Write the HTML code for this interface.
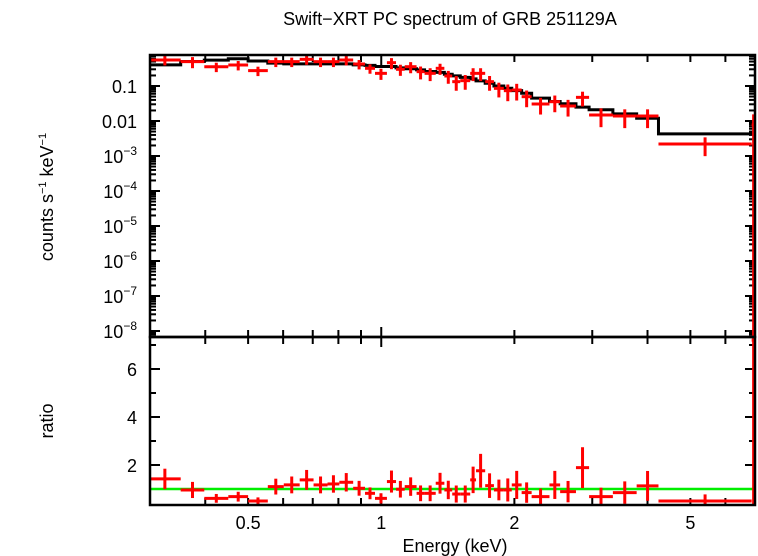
<!DOCTYPE html>
<html><head><meta charset="utf-8"><style>
html,body{margin:0;padding:0;background:#fff;}
svg{display:block;font-family:"Liberation Sans",sans-serif;}
</style></head><body>
<svg id="chart" width="758" height="556" viewBox="0 0 758 556">
<text x="450" y="25" font-size="18" text-anchor="middle">Swift−XRT PC spectrum of GRB 251129A</text>
<text transform="translate(53,197) rotate(-90)" font-size="18" text-anchor="middle">counts s<tspan font-size="11" dy="-7">−1</tspan><tspan dy="7"> keV</tspan><tspan font-size="11" dy="-7">−1</tspan></text>
<text transform="translate(53,421) rotate(-90)" font-size="18" text-anchor="middle">ratio</text>
<text x="455" y="552" font-size="18" text-anchor="middle">Energy (keV)</text>
<defs>
<clipPath id="ctop"><rect x="150" y="55" width="606" height="282"/></clipPath>
<clipPath id="cbot"><rect x="150" y="337" width="606" height="168"/></clipPath>
</defs>
<g id="ticks"></g>
<g id="top" clip-path="url(#ctop)"></g>
<g id="bot" clip-path="url(#cbot)"></g>
<g id="frame"></g>
</svg>
<script>
const eLo=[0.2985,0.352,0.398,0.451,0.500,0.554,0.602,0.654,0.703,0.756,0.804,0.864,0.919,0.968,1.030,1.080,1.130,1.202,1.253,1.328,1.389,1.447,1.509,1.589,1.638,1.718,1.798,1.893,1.973,2.077,2.188,2.401,2.538,2.756,2.951,3.340,3.780,4.235,6.88];
const eHi=[0.352,0.398,0.451,0.500,0.554,0.602,0.654,0.703,0.756,0.804,0.864,0.919,0.968,1.030,1.080,1.130,1.202,1.253,1.328,1.389,1.447,1.509,1.589,1.638,1.718,1.798,1.893,1.973,2.077,2.188,2.401,2.538,2.756,2.951,3.340,3.780,4.235,6.88,7.02];
const counts=[0.553,0.496,0.356,0.398,0.274,0.496,0.496,0.578,0.496,0.496,0.553,0.425,0.32,0.23,0.464,0.30,0.356,0.257,0.23,0.32,0.193,0.133,0.142,0.23,0.23,0.133,0.0857,0.0736,0.0769,0.0495,0.0306,0.0356,0.0268,0.0474,0.0148,0.0139,0.0139,0.0022,0.0077];
const errFrac=[0.3,0.35,0.3,0.3,0.3,0.3,0.3,0.3,0.3,0.3,0.3,0.3,0.3,0.35,0.35,0.35,0.35,0.4,0.4,0.35,0.4,0.45,0.45,0.4,0.4,0.45,0.45,0.5,0.5,0.5,0.5,0.5,0.5,0.45,0.55,0.55,0.55,0.55,1.0];
const model=[0.40,0.50,0.55,0.60,0.52,0.45,0.43,0.43,0.43,0.43,0.43,0.40,0.39,0.36,0.36,0.33,0.31,0.29,0.26,0.245,0.216,0.195,0.177,0.16,0.14,0.12,0.10,0.086,0.074,0.062,0.045,0.036,0.031,0.025,0.021,0.016,0.012,0.0043,0.0043];
const ratio=[1.42,0.96,0.61,0.68,0.5,1.1,1.17,1.38,1.17,1.21,1.28,1.03,0.82,0.61,1.31,0.99,1.1,0.82,0.82,1.24,0.96,0.79,0.79,1.38,1.76,1.14,0.96,0.96,1.17,0.85,0.68,1.17,0.89,1.89,0.68,0.85,1.13,0.5,7.2];
const xTickLabels=["0.5","1","2","5"];
const xTickValues=[0.5,1,2,5];
const yTopLabels=["0.1","0.01","10^-3","10^-4","10^-5","10^-6","10^-7","10^-8"];
const yTopValues=[0.1,0.01,1e-3,1e-4,1e-5,1e-6,1e-7,1e-8];
const yBotLabels=["2","4","6"];
const yBotValues=[2,4,6];

const NS="http://www.w3.org/2000/svg";
const L=150,R=755,T=55,M=337,B=505;
const xMin=0.3,xMax=7.0;
function X(e){return L+(R-L)*Math.log10(e/xMin)/Math.log10(xMax/xMin);}
function YT(v){return 86+35*(-1-Math.log10(v));}
function YB(v){return 465-24*(v-2);}
function mk(parent,tag,attrs){const el=document.createElementNS(NS,tag);for(const k in attrs)el.setAttribute(k,attrs[k]);parent.appendChild(el);return el;}
const gTop=document.getElementById('top'),gBot=document.getElementById('bot'),gT=document.getElementById('ticks'),gF=document.getElementById('frame');

let d="";
for(let i=0;i<model.length;i++){const y=YT(model[i]);d+=(i?"L":"M")+X(eLo[i])+","+y+"L"+X(eHi[i])+","+y;}
const ml=mk(gTop,'path',{d:d,fill:'none',stroke:'#000','stroke-width':3});



const gl=mk(gBot,'line',{x1:L,x2:R,y1:YB(1),y2:YB(1),stroke:'#00ee00','stroke-width':2.5});



for(let i=0;i<counts.length;i++){
  const xc=X(Math.sqrt(eLo[i]*eHi[i]));
  const g=mk(gTop,'g',{stroke:'#ff0000','stroke-width':3});
  
  
  const y=YT(counts[i]);
  const lo=counts[i]*(1-errFrac[i]);
  const yl=lo>0.001*counts[i]?YT(lo):M+5;
  mk(g,'line',{x1:X(eLo[i]),x2:X(eHi[i]),y1:y,y2:y});
  mk(g,'line',{x1:xc,x2:xc,y1:YT(counts[i]*(1+errFrac[i])),y2:yl});
  const g2=mk(gBot,'g',{stroke:'#ff0000','stroke-width':3});
  
  
  const yr=YB(ratio[i]);
  const re=ratio[i]*errFrac[i];
  mk(g2,'line',{x1:X(eLo[i]),x2:X(eHi[i]),y1:yr,y2:yr});
  mk(g2,'line',{x1:xc,x2:xc,y1:YB(ratio[i]+re),y2:YB(ratio[i]-re)});
}

const minorE=[0.3,0.4,0.5,0.6,0.7,0.8,0.9,1,2,3,4,5,6,7];
minorE.forEach(e=>{
  const x=X(e);const len=(e===1)?10:7;
  [T,M].forEach(y0=>mk(gT,'line',{x1:x,x2:x,y1:y0,y2:y0+len,stroke:'#000','stroke-width':2}));
  [M,B].forEach(y0=>mk(gT,'line',{x1:x,x2:x,y1:y0,y2:y0-len,stroke:'#000','stroke-width':2}));
});
xTickValues.forEach((v,i)=>{
  const t=mk(gT,'text',{x:X(v),y:529,'font-size':18,'text-anchor':'middle'});
  t.textContent=xTickLabels[i];
  
  
});
for(let dec=-9;dec<=0;dec++){
  for(let m=1;m<10;m++){
    const v=m*Math.pow(10,dec);const y=YT(v);
    if(y<T||y>M)continue;
    const len=m===1?10:6;
    mk(gT,'line',{x1:L,x2:L+len,y1:y,y2:y,stroke:'#000','stroke-width':2});
    mk(gT,'line',{x1:R,x2:R-len,y1:y,y2:y,stroke:'#000','stroke-width':2});
  }
}
yTopValues.forEach((v,i)=>{
  const t=mk(gT,'text',{x:137,y:YT(v)+7,'font-size':18,'text-anchor':'end'});
  
  
  const lab=yTopLabels[i];
  if(lab.indexOf('^')>=0){
    const p=lab.split('^');
    t.appendChild(document.createTextNode(p[0]));
    const s=mk(t,'tspan',{'font-size':12,dy:-8});s.textContent=p[1].replace('-','−');
  } else t.textContent=lab;
});
for(let v=1;v<=7;v++){
  const y=YB(v);const len=(v%2===0)?10:6;
  mk(gT,'line',{x1:L,x2:L+len,y1:y,y2:y,stroke:'#000','stroke-width':2});
  mk(gT,'line',{x1:R,x2:R-len,y1:y,y2:y,stroke:'#000','stroke-width':2});
}
yBotValues.forEach((v,i)=>{
  const t=mk(gT,'text',{x:137,y:YB(v)+7,'font-size':18,'text-anchor':'end'});
  t.textContent=yBotLabels[i];
  
  
});
const f1=mk(gF,'rect',{x:L,y:T,width:R-L,height:M-T,fill:'none',stroke:'#000','stroke-width':2.5});


const f2=mk(gF,'rect',{x:L,y:M,width:R-L,height:B-M,fill:'none',stroke:'#000','stroke-width':2.5});


</script>
</body></html>
